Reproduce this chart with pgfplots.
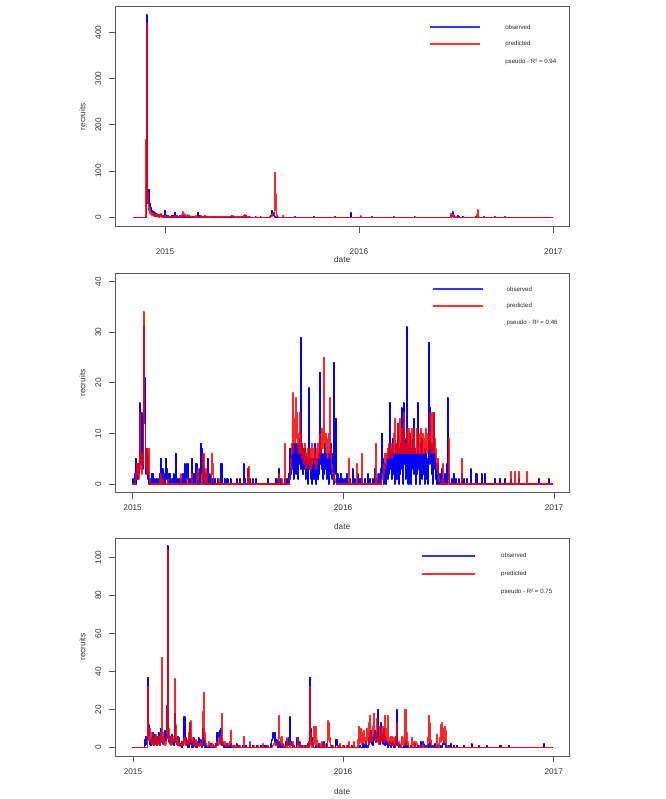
\documentclass[border=0pt]{standalone}
\usepackage{fontspec}
\setmainfont{Liberation Sans}
\usepackage{pgfplots}
\pgfplotsset{compat=1.18}
\newcommand\tickfont{\fontsize{6.2}{7}\selectfont}
\newcommand\legfont{\fontsize{4.6}{5.5}\selectfont}
\pgfplotsset{
  rpanel/.style={
    scale only axis, width=340.3pt,
    axis line style={black!65, line width=0.6pt},
    tick style={black!65, line width=0.6pt},
    tick align=outside, tick pos=left, major tick length=4.5pt,
    xtick={0,365,731}, xticklabels={2015,2016,2017},
    ticklabel style={font=\tickfont, text=black!80},
    /pgf/number format/assume math mode=true,
    /pgf/number format/1000 sep={},
    yticklabel style={rotate=90, anchor=south},
    yticklabel shift=2.45pt,
    xlabel={date}, ylabel={recruits},
    label style={font=\tickfont, text=black!80},
    ylabel style={at={(axis description cs:-0.0727,0.5)}, anchor=center},
    clip=true,
  },
  obsline/.style={color=blue, line width=1.1pt, line join=round, mark=none, const plot},
  predline/.style={color=red, line width=1.1pt, line join=round, mark=none, const plot, draw opacity=0.85},
}
\tikzset{
  legobs/.style={draw=blue!80, line width=1.3pt},
  legpred/.style={draw=red!80, line width=1.3pt},
}
\begin{document}
\begin{tikzpicture}
\path[use as bounding box] (0,0) rectangle (499.5pt,599.25pt);

% ---------------- Panel 1 ----------------
\begin{axis}[rpanel, at={(86.475pt,429.225pt)}, anchor=south west, height=165pt,
  xmin=-93.5, xmax=760.5, ymin=-20.2, ymax=455.5, ytick={0,100,200,300,400},
  xticklabel shift=8.2pt,
  xlabel style={at={(axis description cs:0.5,-0.148)}, anchor=center}]
\addplot[obsline] table {
-61 0
-37 0
-36 2
-35 438
-34 120
-33 30
-32 45
-31 60
-30 38
-29 25
-28 30
-27 15
-26 20
-25 10
-24 14
-23 6
-22 12
-21 5
-20 10
-19 4
-18 8
-17 3
-16 7
-15 2
-14 6
-13 3
-12 5
-11 1
-10 4
-9 2
-8 5
-7 1
-6 3
-5 2
-4 4
-3 1
-2 2
-1 0
0 15
1 5
2 1
3 3
4 0
6 4
7 1
9 2
10 0
12 3
13 1
15 4
16 0
18 2
19 10
20 3
21 1
22 4
23 0
25 2
26 1
28 3
29 0
31 2
32 0
34 3
35 1
37 4
38 0
40 2
41 0
43 3
44 0
47 1
48 0
52 2
53 0
56 1
57 0
61 3
62 10
63 2
64 1
65 4
66 0
69 2
70 0
73 1
74 3
75 0
79 2
80 0
85 1
86 0
90 2
91 0
96 1
97 0
102 2
103 0
108 1
109 0
115 2
116 0
122 1
123 0
125 3
126 0
130 2
131 0
137 1
138 0
145 2
146 0
150 3
151 1
152 4
153 0
158 1
159 0
170 1
171 0
180 1
181 0
198 0
199 4
200 10
201 15
202 6
203 10
204 4
205 8
206 2
207 1
208 0
212 1
213 0
245 1
246 0
280 1
281 0
320 1
321 0
349 0
350 9
351 0
390 1
391 0
430 1
431 0
470 1
471 0
537 0
538 4
539 2
540 3
541 12
542 6
543 2
544 3
545 1
546 0
551 3
552 1
553 2
554 0
560 2
561 0
584 1
585 0
600 1
601 0
620 1
621 0
640 1
641 0
731 0
};
\addplot[predline] table {
-61 0
-37 0
-36 168
-35 420
-34 140
-33 55
-32 30
-31 22
-30 15
-29 18
-28 8
-27 12
-26 6
-25 9
-24 4
-23 8
-22 3
-21 7
-20 3
-19 6
-18 2
-17 5
-16 2
-15 4
-14 6
-13 2
-12 4
-11 1
-10 5
-9 2
-8 7
-7 1
-6 4
-5 2
-4 3
-3 1
-2 2
-1 1
0 3
1 1
3 2
5 0.5
7 3
8 1
10 2
12 1
14 2
16 0.5
19 4
21 1
23 2
25 1
28 2
30 1
32 5
33 12
34 4
35 8
36 2
37 6
38 3
39 4
40 1
42 5
43 2
45 3
47 1
50 2
52 0.5
55 1
58 3
60 1
62 2
64 0.5
67 4
68 1
70 2
72 0.5
75 3
76 1
78 2
80 0.5
84 1
88 0.5
92 2
95 0.5
100 1
104 0.5
110 1
115 0.5
120 2
124 0.5
128 3
129 1
131 0.5
140 1
145 0.5
149 4
150 5
151 3
152 2
153 1
155 0.5
160 0
196 0
198 2
200 5
201 3
202 8
203 6
205 10
206 40
207 97
208 50
209 15
210 5
211 2
212 0
220 0
222 4
223 0
365 0
368 3
369 0
536 0
537 3
538 8
539 2
540 4
541 6
542 2
543 1
544 0
549 0
550 2
551 0
586 0
587 6
588 16
589 4
590 1
591 0
620 0
621 1
622 0
731 0
};
\draw[legobs] (axis description cs:0.694,0.908) -- (axis description cs:0.804,0.908);
\draw[legpred] (axis description cs:0.694,0.830) -- (axis description cs:0.804,0.830);
\node[anchor=west, font=\legfont, text=black!85, inner sep=0pt] at (axis description cs:0.859,0.908) {observed};
\node[anchor=west, font=\legfont, text=black!85, inner sep=0pt] at (axis description cs:0.859,0.830) {predicted};
\node[anchor=west, font=\legfont, text=black!85, inner sep=0pt] at (axis description cs:0.859,0.749) {pseudo - R² = 0.94};
\end{axis}

% ---------------- Panel 2 ----------------
\begin{axis}[rpanel, at={(86.475pt,229.725pt)}, anchor=south west, height=164.55pt,
  xmin=-30.1, xmax=757, ymin=-1.71, ymax=41.65, ytick={0,10,20,30,40},
  xticklabel shift=1.2pt,
  xlabel style={at={(axis description cs:0.5,-0.156)}, anchor=center}]
\addplot[obsline] table {
-1 1
0 0
2 1
3 0
4 2
5 5
6 0
7 3
8 1
9 4
10 2
11 3
12 16
13 12
14 4
15 14
16 5
17 3
18 8
19 12
20 31
21 21
22 7
23 2
24 7
25 3
26 6
27 1
28 0
30 1
31 0
33 2
34 0
35 2
36 0
38 1
39 0
41 1
42 0
44 1
45 0
47 2
48 5
49 0
51 1
52 3
53 0
55 2
56 0
57 5
58 1
59 3
60 0
62 2
63 0
65 2
66 0
68 1
69 0
71 2
72 0
74 6
75 0
77 1
78 0
80 1
81 0
84 1
85 0
87 2
88 0
90 4
91 0
93 4
94 1
96 4
97 0
99 1
100 0
102 2
103 5
104 0
106 2
107 0
109 4
110 1
111 4
112 0
114 2
115 0
117 3
118 8
119 2
120 7
121 0
122 6
123 1
124 3
125 0
127 2
128 0
130 5
131 0
133 2
134 0
136 1
137 0
139 1
140 0
143 1
144 0
147 1
148 0
152 4
153 0
155 4
156 0
159 1
160 0
164 1
165 0
170 1
171 0
180 1
181 0
186 1
187 0
192 4
193 0
195 1
196 0
199 3
200 0
203 1
204 0
208 1
209 0
214 1
215 0
235 1
236 0
249 1
250 0
254 3
255 0
257 1
258 0
264 1
265 0
268 1
269 0
270 2
271 0
272 7
273 1
274 7
275 2
276 6
277 3
278 8
279 1
280 6
281 4
282 8
283 2
284 7
285 3
286 8
287 1
288 6
289 4
290 9
291 3
292 29
293 6
294 8
295 2
296 7
297 5
298 3
299 7
300 1
301 6
302 2
303 5
304 0
305 8
306 19
307 3
308 5
309 1
310 4
311 0
312 3
313 5
314 1
315 8
316 2
317 4
318 0
319 3
320 5
321 1
322 6
323 2
324 11
325 22
326 4
327 7
328 3
329 6
330 1
331 5
332 2
333 8
334 3
335 6
336 1
337 4
338 2
339 5
340 0
341 6
342 2
343 8
344 3
345 5
346 1
347 6
348 0
349 24
350 4
351 2
352 13
353 3
354 0
355 2
356 0
358 1
359 0
361 2
362 0
364 1
365 0
368 1
369 0
372 2
373 0
377 1
378 0
381 3
382 0
385 1
386 0
390 2
391 0
394 1
395 0
398 1
399 0
403 1
404 0
408 2
409 0
412 1
413 0
416 1
417 0
420 3
421 0
424 1
425 0
427 2
428 0
429 1
430 3
431 0
432 10
433 2
434 5
435 0
436 3
437 1
438 4
439 0
440 2
441 5
442 1
443 6
444 2
445 7
446 16
447 3
448 7
449 1
450 6
451 9
452 2
453 5
454 0
455 6
456 3
457 8
458 1
459 12
460 4
461 7
462 0
463 5
464 2
465 8
466 15
467 3
468 6
469 0
470 16
471 4
472 7
473 1
474 9
475 31
476 5
477 8
478 0
479 6
480 10
481 2
482 7
483 0
484 5
485 3
486 9
487 2
488 13
489 4
490 7
491 0
492 6
493 2
494 8
495 16
496 3
497 6
498 0
499 8
500 4
501 9
502 1
503 6
504 2
505 5
506 0
507 7
508 3
509 6
510 1
511 5
512 0
513 8
514 28
515 4
516 15
517 6
518 2
519 8
520 0
521 5
522 14
523 3
524 6
525 1
526 4
527 0
528 3
529 1
530 4
531 0
533 2
534 0
536 3
537 0
539 1
540 0
542 2
543 0
545 4
546 17
547 10
548 1
549 2
550 0
553 1
554 0
557 2
558 0
561 1
562 0
565 1
566 0
570 2
571 0
575 1
576 0
580 1
581 0
586 3
587 0
596 2
597 0
605 2
606 0
611 2
612 0
628 1
629 0
637 1
638 0
646 1
647 0
655 1
656 0
669 1
670 0
705 1
706 0
721 1
722 0
729 0
};
\addplot[predline] table {
-1 0
4 0
5 2
6 1
7 4
8 2
9 3
10 1
11 4
12 14
13 10
14 3
15 6
16 2
17 4
18 5
19 34
20 20
21 12
22 4
23 3
24 7
25 2
26 6
27 7
28 2
29 1
30 0
46 0
47 1
48 2
49 0
52 1
53 0
60 0
61 1
62 0
82 0
83 2
84 0
93 0
94 1
95 0
102 0
103 2
104 0
110 0
111 2
112 1
113 3
114 0
119 0
120 2
121 6
122 3
123 6
124 1
125 0
127 3
128 1
129 2
130 0
136 0
137 6
138 2
139 4
140 0
148 0
149 1
150 0
198 0
199 3
200 1
201 3.5
202 0
252 0
253 2
254 0
257 0
258 1
259 0
263 0
264 8
265 0
270 0
272 1
274 3
275 5
276 8
277 6
278 18
279 9
280 12
281 8
282 13
283 17
284 9
285 14
286 7
287 10
288 6
289 14
290 8
291 6
292 10
293 5
294 8
295 6
296 4
297 7
298 5
299 8
300 3
301 6
302 4
303 7
304 5
305 6
306 4
307 7
308 3
309 6
310 8
311 4
312 6
313 5
314 7
315 4
316 6
317 3
318 5
319 7
320 4
321 8
322 5
323 6
324 10
325 7
326 6
327 8
328 11
329 7
330 9
331 16
332 25
333 8
334 10
335 6
336 9
337 7
338 5
339 8
340 10
341 6
342 17
343 7
344 5
345 4
346 3
347 2
348 2
349 1
350 1
351 0.5
352 0.3
354 0
374 0
375 5
376 0
388 0
389 4
390 0
397 0
398 6
399 0
421 0
422 8
423 2
424 1
425 0
430 0
432 1
434 2
436 4
437 3
438 6
439 4
440 6
441 5
442 7
443 6
444 5
445 8
446 6
447 7
448 6
449 8
450 5
451 7
452 6
453 10
454 7
455 13
456 6
457 8
458 7
459 12
460 6
461 9
462 6
463 7
464 13
465 6
466 8
467 11
468 6
469 9
470 14
471 6
472 8
473 7
474 6
475 10
476 8
477 6
478 11
479 7
480 6
481 10
482 6
483 8
484 11
485 6
486 7
487 6
488 11
489 6
490 7
491 6
492 11
493 7
494 6
495 9
496 6
497 10
498 7
499 11
500 6
501 8
502 6
503 10
504 7
505 6
506 9
507 6
508 11
509 7
510 6
511 10
512 6
513 8
514 9
515 14
516 7
517 10
518 6
519 14
520 8
521 11
522 6
523 14
524 9
525 7
526 5
527 4
528 3
529 5
530 2
531 1
532 0.5
534 0
537 0
538 4
539 0
547 0
548 9
549 3
550 0
570 0
571 5
572 0
654 0
655 2.5
656 0
662 0
663 2.5
664 0
668 0
669 2.5
670 0
682 0
683 2.5
684 0
729 0
};
\draw[legobs] (axis description cs:0.701,0.928) -- (axis description cs:0.811,0.928);
\draw[legpred] (axis description cs:0.701,0.852) -- (axis description cs:0.811,0.852);
\node[anchor=west, font=\legfont, text=black!85, inner sep=0pt] at (axis description cs:0.862,0.928) {observed};
\node[anchor=west, font=\legfont, text=black!85, inner sep=0pt] at (axis description cs:0.862,0.852) {predicted};
\node[anchor=west, font=\legfont, text=black!85, inner sep=0pt] at (axis description cs:0.862,0.775) {pseudo - R² = 0.46};
\end{axis}

% ---------------- Panel 3 ----------------
\begin{axis}[rpanel, at={(86.475pt,32.25pt)}, anchor=south west, height=163.275pt,
  xmin=-30.7, xmax=757.6, ymin=-4.38, ymax=110, ytick={0,20,40,60,80,100},
  xticklabel shift=1.2pt,
  xlabel style={at={(axis description cs:0.5,-0.161)}, anchor=center}]
\addplot[obsline] table {
-1 0
19 0
20 4
21 1
22 6
23 2
24 4
25 10
26 37
27 12
28 5
29 2
30 4
31 1
32 5
33 2
35 8
36 1
37 3
38 7
39 2
40 4
41 1
42 6
43 3
44 8
45 2
46 5
47 1
48 4
49 10
50 3
51 5
52 2
53 6
54 3
55 9
56 4
57 8
58 22
59 5
60 106
61 20
62 6
63 3
64 5
65 2
66 6
67 3
68 7
69 2
70 4
71 1
72 18
73 6
74 3
75 5
76 2
77 6
78 1
79 4
80 5
81 2
82 1
84 3
85 0
86 2
87 1
88 6
89 16
90 4
91 2
92 5
93 1
94 3
95 0
97 4
98 13
99 6
100 2
101 4
102 0
104 3
105 5
106 1
108 2
109 0
111 3
112 1
114 5
115 2
116 1
118 4
119 0
121 10
122 3
123 1
124 4
125 0
127 2
128 0
131 1
132 0
135 2
136 0
140 1
141 0
143 2
144 1
146 8
147 5
148 8
149 6
150 3
151 9
152 10
153 2
154 4
155 1
156 2
157 0
159 1
160 0
163 2
164 0
166 1
167 0
170 2
171 0
175 1
176 0
180 2
181 0
184 1
185 0
190 1
191 0
196 1
197 0
202 1
203 0
208 1
209 0
215 1
216 0
222 1
223 0
228 1
229 0
233 1
234 0
238 0
240 2
241 4
242 6
243 8
244 7
245 5
246 8
247 3
248 2
249 4
250 1
251 2
252 0
254 3
255 1
256 2
257 0
260 2
261 0
265 3
266 1
267 4
268 2
269 1
270 3
271 5
272 2
273 16
274 3
275 1
276 2
277 0
280 1
281 0
284 4
285 5
286 2
287 5
288 1
289 3
290 0
293 1
294 0
298 1
299 0
302 1
303 2
304 0
306 3
307 37
308 10
309 4
310 2
311 5
312 1
313 2
314 0
318 1
319 0
323 2
324 0
330 2
331 3
332 1
333 0
336 2
337 0
345 1
346 0
352 4
353 1
354 4
355 0
360 1
361 0
366 1
367 0
373 1
374 0
380 1
381 0
394 1
395 0
400 2
401 0
404 3
405 1
406 0
408 1
409 5
410 2
411 8
412 3
413 9
414 6
415 2
416 5
417 1
418 7
419 4
420 9
421 3
422 6
423 4
424 8
425 20
426 5
427 3
428 6
429 2
430 10
431 13
432 4
433 7
434 2
435 10
436 3
437 6
438 1
439 4
440 2
441 3
442 0
444 2
445 1
446 3
447 0
449 2
450 1
451 3
452 1
453 0
455 2
456 1
457 6
458 20
459 5
460 1
461 2
462 0
465 1
466 0
470 1
471 0
474 3
475 0
478 1
479 0
482 1
483 0
489 2
490 0
495 1
496 0
500 3
501 0
503 2
504 3
505 2
506 1
507 0
510 1
511 0
514 2
515 1
516 3
517 1
518 0
521 1
522 0
525 2
526 0
530 1
531 0
534 1
535 0
538 2
539 2
540 3
541 2
542 2
543 1
544 0
548 1
549 0
552 2
553 0
557 1
558 0
563 1
564 0
575 1
576 0
588 2
589 0
600 1
601 0
614 1
615 0
638 1
639 0
652 1
653 0
714 2
715 0
729 0
};
\addplot[predline] table {
-1 0
24 0
25 4
26 32
27 8
28 4
29 10
30 3
31 5
32 2
33 8
34 2
35 3
36 1
37 6
38 2
39 7
40 3
41 4
42 1
43 5
44 2
45 6
46 1
47 3
48 8
49 4
50 47
51 8
52 3
53 2
54 5
55 1
56 3
57 2
58 6
59 20
60 104
61 24
62 10
63 4
64 2
65 6
66 1
67 3
68 2
69 5
70 3
71 6
72 20
73 36
74 12
75 4
76 2
77 5
78 1
79 3
80 1
81 2
82 0.5
83 2
84 1
85 3
86 1
87 2
88 4
89 5
90 2
91 1
92 3
93 2
94 1
95 4
96 2
97 8
98 3
99 13
100 14
101 7
102 3
103 2
104 5
105 1
106 2
107 0.5
108 2
109 4
110 1
111 3
112 1
114 2
115 0.5
116 2
117 1
118 3
119 2
120 1
121 5
122 19
123 29
124 8
125 3
126 1
127 2
128 0.5
130 1
131 3
132 1
134 2
135 0.5
137 1
138 2
139 0.5
141 1
142 0
144 1
145 2
146 3
147 1
148 2
149 4
150 2
151 5
152 3
153 6
154 18
155 5
156 2
157 3
158 1
159 2
160 3
161 1
162 2
163 0.5
165 1
166 2
167 1
168 3
169 9
170 2
171 0.5
173 1
174 0
177 1
178 0
180 1
181 0
186 1
187 0
192 0
193 6
194 0
202 0
203 3
204 0
209 1
210 0
216 1
217 0
225 0
226 2
227 0
233 0
234 1
235 0
240 0
242 1
244 2
246 3
247 2
248 1
249 2
250 1
252 2
253 8
254 17
255 5
256 2
257 1
258 6
259 2
260 1
262 0
264 1
265 0
267 5
268 0
272 3
273 1
274 0
278 3
279 0
286 5
287 0
290 2
291 1
292 0
295 0
296 1
297 0
300 0
302 1
304 0
306 3
307 32
308 8
309 1
310 3
311 0
313 2
314 11
315 4
316 2
317 3
318 11
319 4
320 1
321 0
325 2
326 0
328 3
329 1
330 0
333 2
334 0
338 4
339 14
340 13
341 3
342 5
343 0
347 1
348 0
355 1
356 0
359 0
360 2
361 0
365 1
366 0
371 1
372 0
375 3
376 0
380 1
381 0
383 0
384 3
385 0
390 0
391 4
392 2
393 11
394 3
395 5
396 10
397 2
398 6
399 8
400 3
401 9
402 4
403 5
404 2
405 3
406 10
407 4
408 6
409 2
410 13
411 17
412 5
413 3
414 7
415 4
416 11
417 6
418 13
419 18
420 7
421 4
422 5
423 15
424 8
425 3
426 6
427 2
428 7
429 11
430 5
431 3
432 10
433 4
434 11
435 6
436 3
437 12
438 17
439 5
440 4
441 10
442 17
443 3
444 2
445 5
446 1
447 6
448 2
449 4
450 6
451 1
452 3
453 5
454 2
455 0.5
456 6
457 4
458 13
459 12
460 2
461 1
462 3
463 0
466 2
467 6
468 3
469 2
470 5
471 1
472 2
473 20
474 5
475 8
476 1
477 2
478 3
479 0
482 1
483 0
485 5
486 2
487 1
488 3
489 1
490 0
491 1
492 3
493 2
494 0
498 1
499 0
503 0
504 2
505 0
510 0
512 5
513 17
514 3
515 13
516 8
517 4
518 1
519 0
525 0
527 2
528 7
529 1
530 0
532 2
533 5
534 3
535 12
536 4
537 13
538 5
539 10
540 3
541 11
542 6
543 9
544 2
545 1
546 0.5
547 0
729 0
};
\draw[legobs] (axis description cs:0.677,0.920) -- (axis description cs:0.793,0.920);
\draw[legpred] (axis description cs:0.677,0.837) -- (axis description cs:0.793,0.837);
\node[anchor=west, font=\legfont, text=black!85, inner sep=0pt] at (axis description cs:0.850,0.920) {observed};
\node[anchor=west, font=\legfont, text=black!85, inner sep=0pt] at (axis description cs:0.850,0.837) {predicted};
\node[anchor=west, font=\legfont, text=black!85, inner sep=0pt] at (axis description cs:0.850,0.752) {pseudo - R² = 0.75};
\end{axis}
\end{tikzpicture}
\end{document}
